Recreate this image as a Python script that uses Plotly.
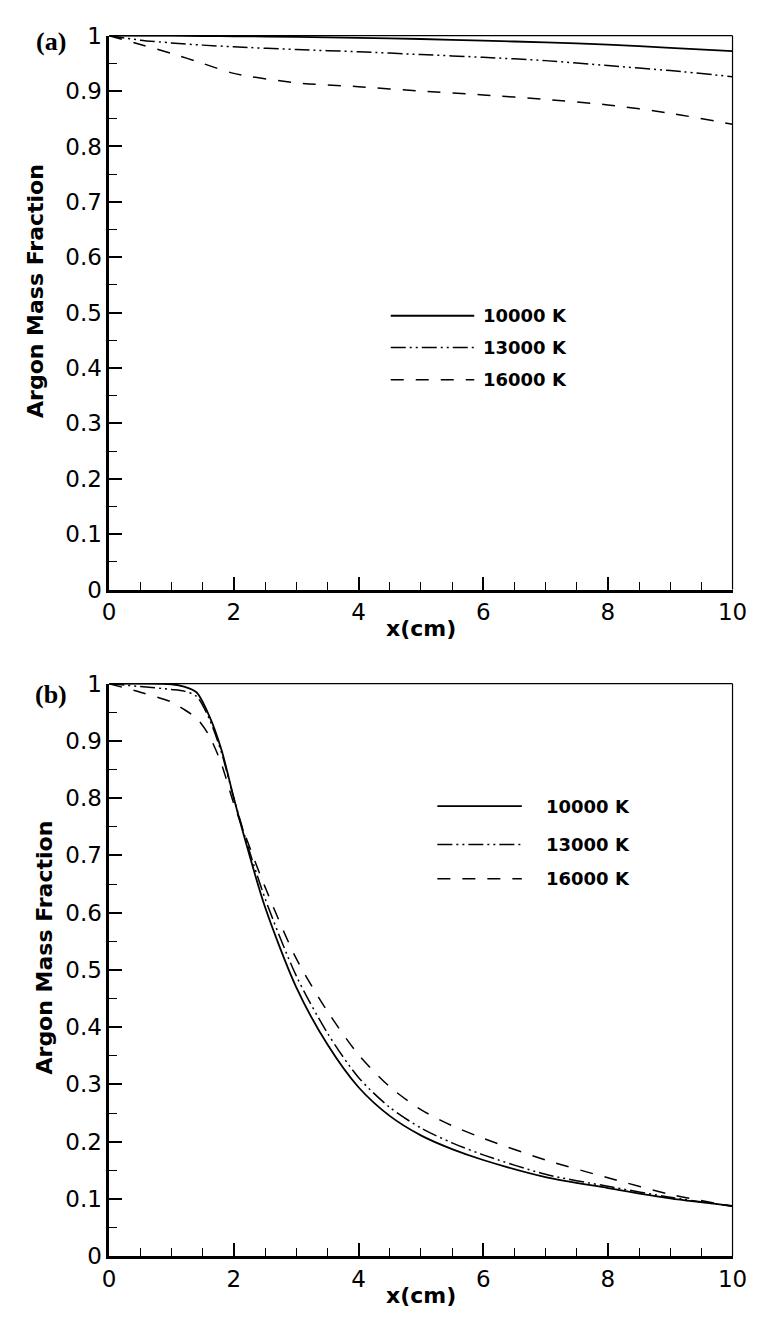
import plotly.graph_objects as go

W, H = 757, 1319

# ---------------- data ----------------
series_names = ["10000 K", "13000 K", "16000 K"]

xa = [0, 0.5, 1, 1.5, 2, 3, 4, 5, 6, 7, 8, 9, 10]
ya_10000 = [1, 1, 1, 0.9995, 0.999, 0.998, 0.996, 0.994, 0.991, 0.988, 0.984, 0.978, 0.972]
ya_13000 = [1, 0.992, 0.987, 0.983, 0.980, 0.975, 0.971, 0.966, 0.961, 0.955, 0.946, 0.937, 0.926]
ya_16000 = [1, 0.984, 0.968, 0.95, 0.932, 0.915, 0.908, 0.9, 0.893, 0.885, 0.875, 0.86, 0.84]

xb = [0, 0.5, 1, 1.2, 1.4, 1.6, 1.8, 2, 2.2, 2.5, 3, 3.5, 4, 4.5, 5, 5.5, 6, 7, 8, 9, 10]
yb_10000 = [1, 1, 0.999, 0.995, 0.985, 0.945, 0.885, 0.80, 0.72, 0.61, 0.47, 0.37, 0.295, 0.245,
            0.211, 0.187, 0.168, 0.138, 0.119, 0.101, 0.088]
yb_13000 = [1, 0.995, 0.99, 0.987, 0.978, 0.94, 0.88, 0.80, 0.725, 0.625, 0.49, 0.39, 0.312, 0.26,
            0.224, 0.198, 0.177, 0.143, 0.122, 0.103, 0.087]
yb_16000 = [1, 0.985, 0.968, 0.955, 0.94, 0.91, 0.86, 0.79, 0.73, 0.645, 0.52, 0.428, 0.352, 0.296,
            0.256, 0.228, 0.206, 0.168, 0.137, 0.108, 0.087]

x_ticks = [0, 2, 4, 6, 8, 10]
y_ticks = [0, 0.1, 0.2, 0.3, 0.4, 0.5, 0.6, 0.7, 0.8, 0.9, 1]

# ---------------- styles ----------------
dashes = ["solid", "15px,4px,2px,4px,2px,4px", "13px,12px"]
widths = [1.8, 1.5, 1.5]

def px_x(p):
    return p / W

def px_y(p):
    return 1 - p / H

# plot areas in pixels
L, R = 97, 739
A_T, A_B = 15, 580
B_T, B_B = 676, 1260

fig = go.Figure()

for i, (name, ys) in enumerate(zip(series_names, [ya_10000, ya_13000, ya_16000])):
    fig.add_trace(go.Scatter(x=xa, y=ys, mode="lines", name=name, showlegend=False,
                             line=dict(color="black", width=widths[i], dash=dashes[i], shape="spline", smoothing=0.8),
                             xaxis="x", yaxis="y"))
for i, (name, ys) in enumerate(zip(series_names, [yb_10000, yb_13000, yb_16000])):
    fig.add_trace(go.Scatter(x=xb, y=ys, mode="lines", name=name, showlegend=False,
                             line=dict(color="black", width=widths[i], dash=dashes[i], shape="spline", smoothing=0.8),
                             xaxis="x2", yaxis="y2"))

tickfont = dict(family="DejaVu Sans", size=23, color="black")

def xaxis(anchor):
    return dict(domain=[px_x(L), px_x(R)], anchor=anchor, range=[0, 10], tickvals=x_ticks,
                ticks="inside", ticklen=13, tickwidth=1.5, tickcolor="black",
                minor=dict(dtick=0.5, ticks="inside", ticklen=8, tickwidth=1.2, tickcolor="black"),
                showline=True, linewidth=2.5, linecolor="black", showgrid=False, zeroline=False,
                tickfont=tickfont)

def yaxis(anchor, top, bot):
    return dict(domain=[px_y(bot), px_y(top)], anchor=anchor, range=[0, 1], tickvals=y_ticks,
                ticktext=[("%g" % v) for v in y_ticks],
                ticks="inside", ticklen=13, tickwidth=1.5, tickcolor="black",
                minor=dict(dtick=0.05, ticks="inside", ticklen=8, tickwidth=1.2, tickcolor="black"),
                showline=True, linewidth=2.5, linecolor="black", showgrid=False, zeroline=False,
                tickfont=tickfont)

fig.update_layout(
    width=W, height=H, margin=dict(l=0, r=0, t=0, b=0),
    paper_bgcolor="white", plot_bgcolor="white",
    xaxis=xaxis("y"), yaxis=yaxis("x", A_T, A_B),
    xaxis2=xaxis("y2"), yaxis2=yaxis("x2", B_T, B_B),
)

shapes = []
# thin top/right frame lines
for xr, yr in [("x domain", "y domain"), ("x2 domain", "y2 domain")]:
    shapes.append(dict(type="line", xref=xr, yref=yr, x0=0, x1=1, y0=1, y1=1,
                       line=dict(color="black", width=1.2)))
    shapes.append(dict(type="line", xref=xr, yref=yr, x0=1, x1=1, y0=0, y1=1,
                       line=dict(color="black", width=1.2)))

annotations = []
# legends (manual)
leg_a = dict(x0=387, x1=473, ys=[300.7, 333, 366], tx=480)
leg_b = dict(x0=435, x1=522, ys=[801, 840, 875], tx=545)
for leg in [leg_a, leg_b]:
    for i, yy in enumerate(leg["ys"]):
        shapes.append(dict(type="line", xref="paper", yref="paper",
                           x0=px_x(leg["x0"]), x1=px_x(leg["x1"]), y0=px_y(yy), y1=px_y(yy),
                           line=dict(color="black", width=widths[i], dash=dashes[i])))
        annotations.append(dict(text="<b>%s</b>" % series_names[i], xref="paper", yref="paper",
                                x=px_x(leg["tx"]), y=px_y(yy), xanchor="left", yanchor="middle",
                                showarrow=False, font=dict(family="DejaVu Sans", size=18, color="black")))

title_font = dict(family="DejaVu Sans", size=22, color="black")
# x titles
for yy in [620, 1300]:
    annotations.append(dict(text="<b>x(cm)</b>", xref="paper", yref="paper",
                            x=px_x((L + R) / 2), y=px_y(yy), xanchor="center", yanchor="middle",
                            showarrow=False, font=title_font))
# y titles
for xx, yy in [(21, 275), (30, 945)]:
    annotations.append(dict(text="<b>Argon Mass Fraction</b>", xref="paper", yref="paper",
                            x=px_x(xx), y=px_y(yy), xanchor="center", yanchor="middle",
                            textangle=-90, showarrow=False, font=title_font))
# panel labels
for lab, yy in [("(a)", 21), ("(b)", 687)]:
    annotations.append(dict(text="<b>%s</b>" % lab, xref="paper", yref="paper",
                            x=px_x(37), y=px_y(yy), xanchor="center", yanchor="middle",
                            showarrow=False, font=dict(family="Liberation Serif", size=26, color="black")))

fig.update_layout(shapes=shapes, annotations=annotations)
fig.write_html("out.html")
